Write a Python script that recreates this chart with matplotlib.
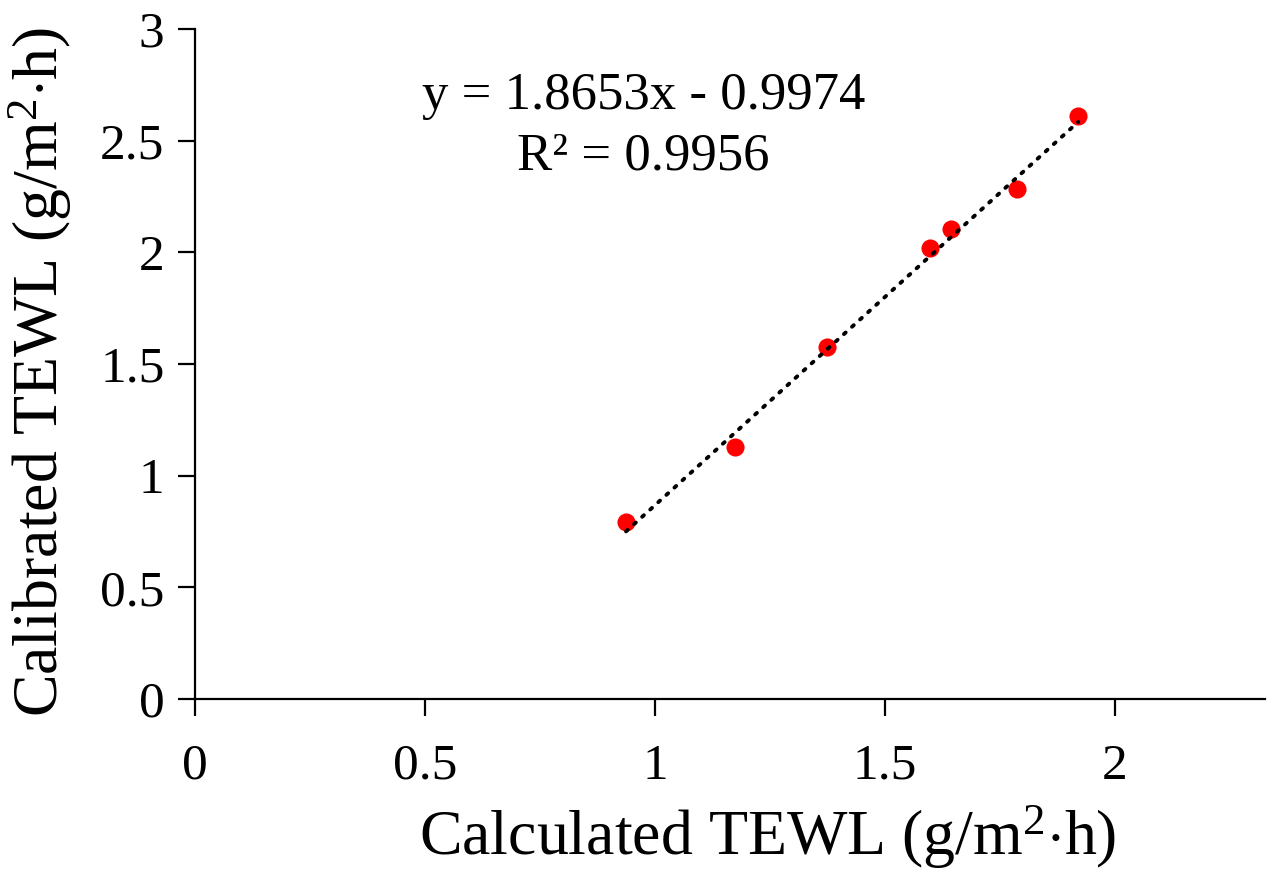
import matplotlib
matplotlib.use("Agg")
import matplotlib.pyplot as plt
import numpy as np

plt.rcParams["font.family"] = ["Liberation Serif", "DejaVu Serif"]
plt.rcParams["mathtext.fontset"] = "custom"
plt.rcParams["mathtext.rm"] = "Liberation Serif"
plt.rcParams["mathtext.it"] = "Liberation Serif:italic"

# values
calculated = [0.937, 1.174, 1.374, 1.598, 1.643, 1.787, 1.920]
calibrated = [0.793, 1.128, 1.576, 2.020, 2.105, 2.284, 2.611]
slope = 1.8653
intercept = -0.9974
x_ticks = [0, 0.5, 1, 1.5, 2]
y_ticks = [0, 0.5, 1, 1.5, 2, 2.5, 3]

fig = plt.figure(figsize=(12.68, 8.8), dpi=100)
ax = fig.add_axes([0.1538, 0.2057, 0.8438, 0.7613])

# trend line
xs = np.array([min(calculated), max(calculated)])
ax.plot(xs, slope * xs + intercept, color="black", linestyle=(0, (0.6, 2.2)),
        linewidth=2.8, dash_capstyle="round", zorder=3)
ax.scatter(calculated, calibrated, s=170, color="#ff0000", zorder=2, linewidths=0)

ax.set_xlim(0, 2.326)
ax.set_ylim(0, 3)
ax.set_xticks(x_ticks)
ax.set_xticklabels(["0", "0.5", "1", "1.5", "2"])
ax.set_yticks(y_ticks)
ax.set_yticklabels(["0", "0.5", "1", "1.5", "2", "2.5", "3"])

for s in ["top", "right"]:
    ax.spines[s].set_visible(False)
for s in ["left", "bottom"]:
    ax.spines[s].set_linewidth(1.6)
ax.tick_params(axis="both", direction="out", length=12, width=1.6, labelsize=37)
ax.tick_params(axis="x", pad=20)
ax.tick_params(axis="y", pad=10)

ax.set_xlabel("Calculated TEWL (g/m$^{2}$$\\cdot$h)", fontsize=46)
ax.xaxis.set_label_coords(0.5355, -0.155)
ax.set_ylabel("Calibrated TEWL (g/m$^{2}$$\\cdot$h)", fontsize=46)
ax.yaxis.set_label_coords(-0.113, 0.488)

ax.text(0.975, 2.70, "y = 1.8653x - 0.9974", fontsize=38, ha="center", va="center")
ax.text(0.975, 2.43, "R² = 0.9956", fontsize=38, ha="center", va="center")

fig.savefig("out.png", dpi=100)
